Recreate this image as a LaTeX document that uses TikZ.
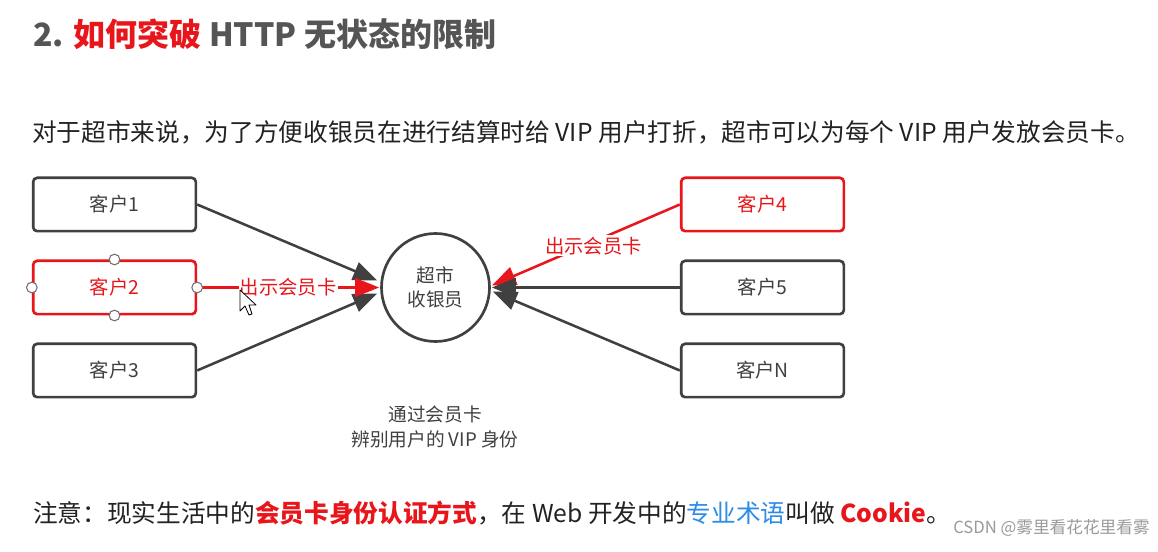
\documentclass[tikz,border=0pt]{standalone}
\usepackage{fontspec}
\setmainfont{Noto Sans CJK SC}
\usetikzlibrary{arrows.meta,calc}
\definecolor{titlegray}{HTML}{555555}
\definecolor{txt}{HTML}{222222}
\definecolor{dgray}{HTML}{404040}
\definecolor{rd}{HTML}{E8161B}
\definecolor{bl}{HTML}{2D8CE8}
\definecolor{wm}{HTML}{9A9A9A}
\definecolor{hgray}{HTML}{7A6E6E}
\begin{document}
\begin{tikzpicture}[x=0.75pt,y=-0.75pt,
  custbox/.style={draw=dgray,line width=2pt,rounded corners=3pt,minimum width=122pt,minimum height=40pt,inner sep=0pt,text=dgray,font=\fontsize{14.5}{17}\selectfont},
  redbox/.style={custbox,draw=rd,text=rd},
  cashier/.style={circle,draw=dgray,line width=2pt,minimum size=81pt,inner sep=0pt,text=dgray,align=center,font=\fontsize{14}{17.5}\selectfont},
  conn/.style={draw=dgray,line width=1.9pt,-{Triangle[length=18pt,width=14pt]}},
  redconn/.style={conn,draw=rd,-{Triangle[length=18pt,width=14pt,fill=rd]},color=rd},
  cardlbl/.style={fill=white,text=rd,inner sep=1pt,font=\fontsize{14.5}{17}\selectfont},
  handle/.style={circle,draw=hgray,fill=white,line width=0.8pt,minimum size=8pt,inner sep=0pt},
  plain/.style={inner sep=0pt,anchor=west}
]
\useasboundingbox[fill=white] (0,0) rectangle (1158,552);

% title
\node[plain,text=titlegray,font=\fontsize{24}{27}\selectfont\bfseries] (title) at (33,34)
  {2. \textcolor{rd}{如何突破} HTTP 无状态的限制};

% intro line
\node[plain,text=txt,font=\fontsize{18.5}{21}\selectfont] (intro) at (32,132)
  {对于超市来说，为了方便收银员在进行结算时给 VIP 用户打折，超市可以为每个 VIP 用户发放会员卡。};

% boxes
\node[custbox] (c1) at (114.5,204.5) {客户1};
\node[redbox]  (c2) at (114.5,287.5) {客户2};
\node[custbox] (c3) at (114.5,370.5) {客户3};
\node[redbox]  (c4) at (762.5,204.5) {客户4};
\node[custbox] (c5) at (762.5,287.5) {客户5};
\node[custbox] (cN) at (762.5,370.5) {客户N};

\node[cashier] (cs) at (435.5,287.5) {超市\\收银员};

% connectors
\draw[conn] (c1.east) -- ($(cs.west)+(-3,-7)$);
\draw[conn] (c3.east) -- ($(cs.west)+(-3,6)$);
\draw[redconn] (c2.east) -- node[cardlbl,pos=0.5] (l2) {出示会员卡} ($(cs.west)+(-1,0)$);
\draw[redconn] (c4.west) -- node[cardlbl,pos=0.46,yshift=-3pt] (l4) {出示会员卡} ($(cs.east)+(1,-2)$);
\draw[conn] (c5.west) -- ($(cs.east)+(1,0)$);
\draw[conn] (cN.west) -- ($(cs.east)+(2,4)$);

% selection handles on 客户2
\node[handle] (h1) at (c2.north) {};
\node[handle] (h2) at (c2.south) {};
\node[handle] (h3) at (c2.west) {};
\node[handle] (h4) at (c2.east) {};

% mouse pointer
\draw[fill=white,draw=black,line width=0.6pt,line join=round]
  (240,290) -- (240,311) -- (245,306) -- (249,315) -- (252,314) -- (249,305) -- (256,305) -- cycle;

% caption
\node[text=dgray,align=center,font=\fontsize{14}{19}\selectfont] (cap) at (435,427)
  {通过会员卡\\辨别用户的 VIP 身份};

% note line
\node[plain,text=txt,font=\fontsize{18.5}{21}\selectfont] (note) at (33,513)
  {注意：现实生活中的\textcolor{rd}{\bfseries 会员卡身份认证方式}，在 Web 开发中的\textcolor{bl}{专业术语}叫做 \textcolor{rd}{\bfseries Cookie}。};

% watermark
\node[anchor=east,inner sep=0pt,text=wm,font=\fontsize{12.5}{15}\selectfont] (wmk) at (1150,528)
  {CSDN @雾里看花花里看雾};
\end{tikzpicture}
\end{document}
